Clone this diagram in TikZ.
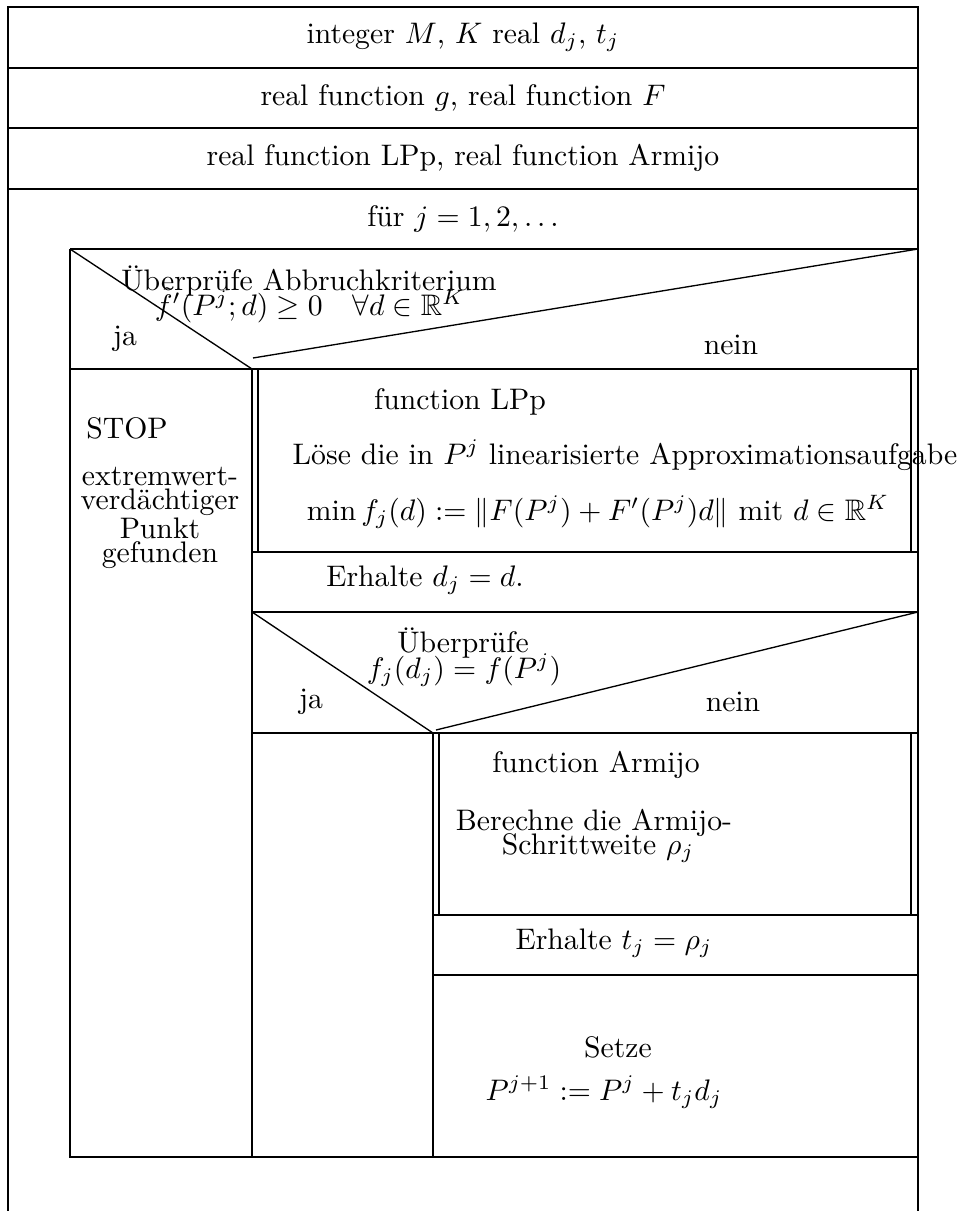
\documentclass[tikz,border=0pt]{standalone}
\usepackage{fontspec}
\usepackage{amsmath,amssymb}
\begin{document}
\begin{tikzpicture}[x=0.3367pt,y=-0.3367pt,
  outer/.style={line width=1pt},
  frame/.style={line width=0.8pt},
  diag/.style={line width=0.45pt},
  txt/.style={inner sep=0pt}]
\useasboundingbox (0,0) rectangle (965,1211);
% outer frame and header rows
\draw[outer] (8,1211) -- (8,7) -- (918,7) -- (918,1211);
\foreach \y in {68,128,189} \draw[frame] (8,\y) -- (918,\y);
% loop body
\draw[frame] (70,249) -- (918,249);
\draw[frame] (70,249) -- (70,1157) -- (918,1157);
% decision 1
\draw[frame] (70,369) -- (918,369);
\draw[diag] (70,249) -- (252,369);
\draw[diag] (253,358) -- (918,249);
\draw[frame] (252,369) -- (252,1157);
% LPp box
\draw[frame] (258,369) -- (258,552);
\draw[frame] (911,369) -- (911,552);
\draw[frame] (252,552) -- (918,552);
\draw[frame] (252,612) -- (918,612);
% decision 2
\draw[diag] (252,612) -- (433,733);
\draw[diag] (436,730) -- (918,612);
\draw[frame] (252,733) -- (918,733);
\draw[frame] (433,733) -- (433,1157);
% Armijo box
\draw[frame] (439,733) -- (439,915);
\draw[frame] (911,733) -- (911,915);
\draw[frame] (433,915) -- (918,915);
\draw[frame] (433,975) -- (918,975);
% texts
\node[txt] (t1) at (463,37) {integer $M$, $K$ real $d_j$, $t_j$};
\node[txt] (t2) at (463,98) {real function $g$, real function $F$};
\node[txt] (t3) at (463,158) {real function LPp, real function Armijo};
\node[txt] (t4) at (463,219) {für $j=1,2,\ldots$};
\node[txt] (d1a) at (309,281) {Überprüfe Abbruchkriterium};
\node[txt] (d1b) at (310,305) {$\tilde f'(P^j;d)\ge 0\quad\forall d\in\mathbb{R}^K$};
\node[txt] (d1ja) at (125,339) {ja};
\node[txt] (d1nein) at (731,345) {nein};
\node[txt] (stop) at (127,428) {STOP};
\node[txt,align=center,font=\fontsize{10pt}{7.9pt}\selectfont] (found) at (160,518) {extremwert-\\verdächtiger\\Punkt\\gefunden};
\node[txt] (lp1) at (460,402) {function LPp};
\node[txt] (lp2) at (625,455) {Löse die in $P^j$ linearisierte Approximationsaufgabe};
\node[txt] (lp3) at (598,512) {$\min f_j(d) := \|F(P^j)+F'(P^j)d\|$ mit $d\in\mathbb{R}^K$};
\node[txt] (dj) at (425,580) {Erhalte $d_j=d$.};
\node[txt] (d2a) at (463,643) {Überprüfe};
\node[txt] (d2b) at (464,670) {$f_j(d_j)=f(P^j)$};
\node[txt] (d2ja) at (311,702) {ja};
\node[txt] (d2nein) at (733,702) {nein};
\node[txt] (ar1) at (596,765) {function Armijo};
\node[txt] (ar2) at (594,823) {Berechne die Armijo-};
\node[txt] (ar3) at (598,848) {Schrittweite $\rho_j$};
\node[txt] (tj) at (614,943) {Erhalte $t_j=\rho_j$};
\node[txt] (s1) at (618,1047) {Setze};
\node[txt] (s2) at (604,1092) {$P^{j+1} := P^j + t_j d_j$};
\end{tikzpicture}
\end{document}
